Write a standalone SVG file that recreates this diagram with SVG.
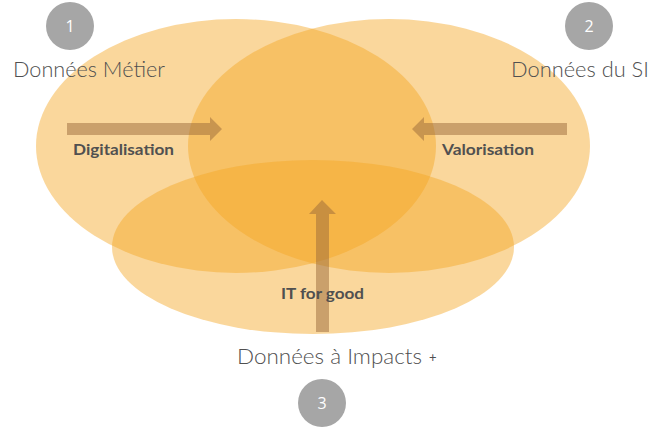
<svg xmlns="http://www.w3.org/2000/svg" width="666" height="430" viewBox="0 0 666 430">
<style>
.set{fill:#F5A623;fill-opacity:0.45}
.arr{fill:#9A6A3A;fill-opacity:0.5}
.lbl{font-family:Lato,"Open Sans","DejaVu Sans",sans-serif;font-weight:bold;font-size:15px;fill:#505050}
.ttl{font-family:Lato,"Open Sans","DejaVu Sans",sans-serif;font-weight:300;font-size:21px;fill:#505050}
.badge{fill:#A6A6A6}
.num{font-family:"Open Sans","DejaVu Sans",sans-serif;font-size:16px;fill:#fff;text-anchor:middle}
</style>
<rect width="666" height="430" fill="#fff"/>
<g id="set-metier"><ellipse class="set" cx="236" cy="146" rx="200" ry="127"/></g>
<g id="set-si"><ellipse class="set" cx="389" cy="146" rx="201" ry="127"/></g>
<g id="set-impacts"><ellipse class="set" cx="313" cy="247" rx="201" ry="87"/></g>
<g id="connectors">
<polygon class="arr" points="67,123 210,123 210,117 222,129 210,141 210,135 67,135"/>
<polygon class="arr" points="567,123 424,123 424,117 412,129 424,141 424,135 567,135"/>
<polygon class="arr" points="316,332 316,214 309,214 322,200 336,214 329,214 329,332"/>
</g>
<g id="label-digitalisation"><text class="lbl" x="73" y="155" textLength="101" lengthAdjust="spacingAndGlyphs">Digitalisation</text></g>
<g id="label-valorisation"><text class="lbl" x="442" y="155" textLength="92" lengthAdjust="spacingAndGlyphs">Valorisation</text></g>
<g id="label-itforgood"><text class="lbl" x="281" y="299" textLength="83" lengthAdjust="spacingAndGlyphs">IT for good</text></g>
<g id="node-1"><circle class="badge" cx="70" cy="26" r="24"/><text class="num" x="70" y="32">1</text><text class="ttl" x="13" y="77" textLength="152" lengthAdjust="spacingAndGlyphs">Données Métier</text></g>
<g id="node-2"><circle class="badge" cx="589" cy="26" r="24"/><text class="num" x="589" y="32">2</text><text class="ttl" x="511" y="77" textLength="138" lengthAdjust="spacingAndGlyphs">Données du SI</text></g>
<g id="node-3"><circle class="badge" cx="322" cy="403" r="24"/><text class="num" x="322" y="409">3</text><text class="ttl" x="237" y="364" textLength="185" lengthAdjust="spacingAndGlyphs">Données à Impacts</text><text x="429" y="362" font-family="Lato,sans-serif" font-size="13" fill="#505050">+</text></g>
</svg>
